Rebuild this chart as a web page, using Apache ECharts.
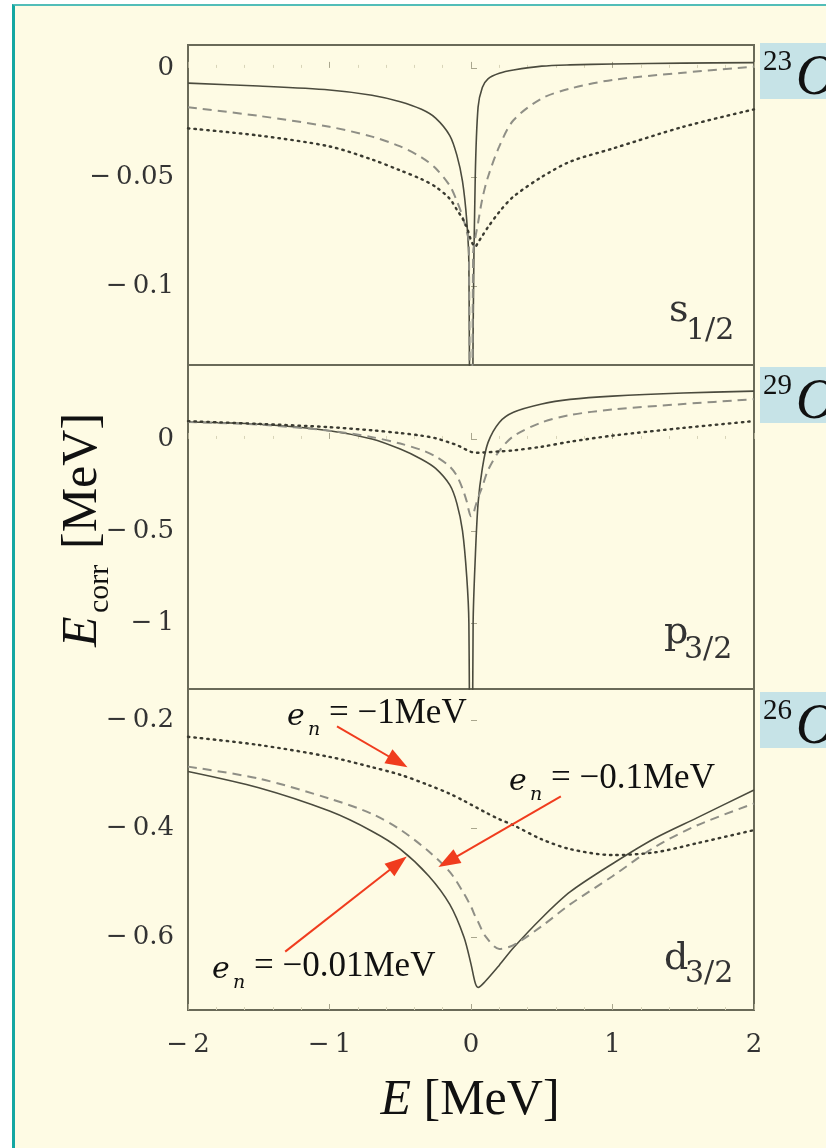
<!DOCTYPE html>
<html>
<head>
<meta charset="utf-8">
<script src="https://cdn.jsdelivr.net/npm/echarts@6/dist/echarts.min.js"></script>
<style>
  html, body { margin: 0; padding: 0; background: #ffffff; }
  #marco {
    position: absolute; left: 12px; top: 4px; width: 840px; height: 1170px;
    background: #fefbe4; border-left: 3px solid #14a7a2; border-top: 2px solid #52bdb8;
  }
  #chart-container { position: absolute; left: 0; top: 0; width: 826px; height: 1148px; }
</style>
</head>
<body>
<div id="marco"></div>
<div id="chart-container"></div>
<script>
// Energías (MeV) de los paneles s1/2 y p3/2
const energiasSP = [-2, -1.5, -1, -0.7, -0.5, -0.35, -0.25, -0.15, -0.1, -0.06, -0.03, -0.015, 0,
  0.015, 0.03, 0.05, 0.08, 0.12, 0.2, 0.3, 0.5, 0.7, 1, 1.5, 2];

// Panel s1/2 (23O): en = -0.01, -0.1, -1 MeV
const sSolida = [-0.0070, -0.0083, -0.0101, -0.0125, -0.0155, -0.019, -0.023, -0.031, -0.040, -0.052, -0.070, -0.090, -0.3,
  -0.12, -0.05, -0.018, -0.009, -0.005, -0.0025, -0.001, 0.0008, 0.0014, 0.0018, 0.0022, 0.0024];
const sDiscontinua = [-0.018, -0.022, -0.027, -0.0315, -0.036, -0.041, -0.046, -0.054, -0.061, -0.068, -0.075, -0.080, -0.3,
  -0.085, -0.078, -0.071, -0.060, -0.050, -0.036, -0.024, -0.014, -0.0095, -0.0055, -0.0022, 0.0006];
const sPunteada = [-0.0277, -0.031, -0.036, -0.042, -0.047, -0.051, -0.0545, -0.060, -0.065, -0.069, -0.073, -0.076, -0.079,
  -0.081, -0.082, -0.080, -0.077, -0.073, -0.066, -0.059, -0.050, -0.043, -0.037, -0.027, -0.019];

// Panel p3/2 (29O)
const pSolida = [0.092, 0.08, 0.045, 0.0, -0.055, -0.11, -0.16, -0.25, -0.35, -0.50, -0.75, -1.0, -3,
  -1.0, -0.65, -0.35, -0.16, -0.02, 0.09, 0.145, 0.19, 0.215, 0.233, 0.25, 0.26];
const pDiscontinua = [0.092, 0.078, 0.045, 0.01, -0.025, -0.06, -0.095, -0.15, -0.20, -0.27, -0.34, -0.39, -0.42,
  -0.41, -0.37, -0.32, -0.26, -0.17, -0.065, 0.015, 0.09, 0.13, 0.16, 0.19, 0.216];
const pPunteada = [0.097, 0.082, 0.064, 0.047, 0.032, 0.018, 0.004, -0.02, -0.033, -0.048, -0.06, -0.066, -0.07,
  -0.073, -0.075, -0.075, -0.074, -0.072, -0.068, -0.062, -0.042, -0.015, 0.018, 0.06, 0.097];

// Panel d3/2 (26O)
const energiasD = [-2, -1.5, -1, -0.7, -0.5, -0.3, -0.15, -0.05, 0, 0.03, 0.05, 0.1, 0.2, 0.3, 0.5, 0.7, 1, 1.3, 1.6, 2];
const dSolida = [-0.295, -0.325, -0.368, -0.405, -0.438, -0.487, -0.540, -0.600, -0.650, -0.685, -0.693, -0.682, -0.652,
  -0.62, -0.565, -0.517, -0.465, -0.418, -0.38, -0.329];
const dDiscontinua = [-0.286, -0.308, -0.345, -0.373, -0.402, -0.442, -0.48, -0.52, -0.544, -0.562, -0.572, -0.598, -0.622,
  -0.615, -0.58, -0.54, -0.488, -0.434, -0.394, -0.354];
const dPunteada = [-0.231, -0.246, -0.268, -0.287, -0.301, -0.32, -0.336, -0.349, -0.356, -0.36, -0.363, -0.37, -0.383,
  -0.394, -0.42, -0.438, -0.449, -0.444, -0.427, -0.403];

// Marcas de los ejes y rangos
const ticksE = [-2, -1, 0, 1, 2];
const ticksS = [0, -0.05, -0.1];
const ticksP = [0, -0.5, -1];
const ticksD = [-0.2, -0.4, -0.6];
const rangoS = [-0.1362, 0.0105];
const rangoP = [-1.359, 0.402];
const rangoD = [-0.7346, -0.1429];

// Flechas rojas del panel d3/2: [inicio, punta] en coordenadas de datos
const flechas = [
  [[-0.947, -0.212], [-0.516, -0.277]],
  [[0.635, -0.341], [-0.163, -0.461]],
  [[-1.313, -0.627], [-0.515, -0.464]]
];

const fuente = "'Liberation Serif', 'DejaVu Serif', serif";
const fuenteAncha = "'DejaVu Serif', serif";

// Formato con signo menos tipográfico
function formatearTick(valor) {
  return valor < 0 ? "\u2212\u2009" + String(-valor) : String(valor);
}

// Estilos de las tres curvas
const estiloSolido = { color: "#4b4b3e", width: 1.6, type: "solid" };
const estiloDiscontinuo = { color: "#8f8f86", width: 2, type: [9, 6] };
const estiloPunteado = { color: "#3a3a30", width: 2.4, type: [1.5, 5], cap: "round" };

function crearEjeX(indice, conEtiquetas) {
  return {
    type: "value", gridIndex: indice, min: -2, max: 2, interval: 1,
    axisLine: { show: false }, splitLine: { show: false },
    axisTick: { show: true, inside: true, length: 6, customValues: ticksE, lineStyle: { color: "#a9a68e" } },
    minorTick: { show: true, splitNumber: 5, length: 3, lineStyle: { color: "#d8d4b8" } },
    axisLabel: { show: conEtiquetas, customValues: ticksE, margin: 22, fontFamily: fuenteAncha, fontSize: 26, color: "#333", formatter: formatearTick },
  };
}

function crearEjeY(indice, rango, ticks) {
  return {
    type: "value", gridIndex: indice, min: rango[0], max: rango[1],
    axisLine: { show: false }, splitLine: { show: false },
    axisTick: { show: true, inside: true, length: 6, customValues: ticks, lineStyle: { color: "#a9a68e" } },
    axisLabel: { customValues: ticks, margin: 14, fontFamily: fuenteAncha, fontSize: 26, color: "#333", formatter: formatearTick },
  };
}

function crearSerie(nombre, indice, xs, ys, estilo) {
  return {
    name: nombre, type: "line", xAxisIndex: indice, yAxisIndex: indice,
    data: xs.map((x, i) => [x, ys[i]]),
    showSymbol: false, symbol: "none", smooth: 0.3, clip: true,
    lineStyle: estilo, silent: true, emphasis: { disabled: true },
  };
}

// Texto auxiliar para los elementos gráficos
function texto(x, y, contenido, tamano, cursiva, familia) {
  return {
    type: "text", x: x, y: y, silent: true,
    style: {
      text: contenido, fill: "#111", fontFamily: familia || fuente, fontSize: tamano,
      fontStyle: cursiva ? "italic" : "normal", verticalAlign: "middle", align: "left",
    },
  };
}

// Etiqueta de núcleo (caja azul a la derecha)
function etiquetaNucleo(arriba, masa) {
  return {
    type: "group", x: 760, y: arriba, silent: true,
    children: [
      { type: "rect", shape: { x: 0, y: 0, width: 80, height: 56 }, style: { fill: "#c6e3e7" } },
      texto(3, 19, masa, 29, false),
      texto(36, 36, "O", 56, true),
    ],
  };
}

// Etiqueta de onda parcial (s1/2, p3/2, d3/2)
function etiquetaOnda(x, y, letra, sub, dx, dy) {
  const a = texto(0, 0, letra, 38, false, fuenteAncha);
  const b = texto(dx, dy, sub, 30, false, fuenteAncha);
  a.style.fill = "#333";
  b.style.fill = "#333";
  return { type: "group", x: x, y: y, silent: true, children: [a, b] };
}

// Anotación e_n = ...
function anotacion(x, y, resto) {
  return {
    type: "group", x: x, y: y, silent: true,
    children: [texto(0, 0, "e", 30, true, fuenteAncha), texto(21, 13, "n", 19, true, fuenteAncha), texto(42, -3, "= " + resto, 35, false)],
  };
}

const option = {
  animation: false,
  grid: [
    { left: 188, right: 72, top: 45, height: 320 },
    { left: 188, right: 72, top: 365, height: 324 },
    { left: 188, right: 72, top: 689, height: 321 },
  ].map((g) => Object.assign(g, { show: true, borderColor: "#6a6a58", borderWidth: 2, backgroundColor: "transparent" })),
  xAxis: [crearEjeX(0, false), crearEjeX(1, false), crearEjeX(2, true)],
  yAxis: [crearEjeY(0, rangoS, ticksS), crearEjeY(1, rangoP, ticksP), crearEjeY(2, rangoD, ticksD)],
  series: [
    crearSerie("s -0.01", 0, energiasSP, sSolida, estiloSolido),
    crearSerie("s -0.1", 0, energiasSP, sDiscontinua, estiloDiscontinuo),
    crearSerie("s -1", 0, energiasSP, sPunteada, estiloPunteado),
    crearSerie("p -0.01", 1, energiasSP, pSolida, estiloSolido),
    crearSerie("p -0.1", 1, energiasSP, pDiscontinua, estiloDiscontinuo),
    crearSerie("p -1", 1, energiasSP, pPunteada, estiloPunteado),
    crearSerie("d -0.01", 2, energiasD, dSolida, estiloSolido),
    crearSerie("d -0.1", 2, energiasD, dDiscontinua, estiloDiscontinuo),
    Object.assign(crearSerie("d -1", 2, energiasD, dPunteada, estiloPunteado), {
      markLine: {
        silent: true, animation: false,
        symbol: ["none", "triangle"], symbolSize: [16, 22],
        lineStyle: { color: "#f03c1e", width: 2, type: "solid" },
        label: { show: false }, emphasis: { disabled: true },
        data: flechas.map((f) => [{ coord: f[0] }, { coord: f[1] }]),
      },
    }),
  ],
  graphic: [
    etiquetaNucleo(43, "23"),
    etiquetaNucleo(367, "29"),
    etiquetaNucleo(692, "26"),
    etiquetaOnda(669, 311, "s", "1/2", 17, 20),
    etiquetaOnda(664, 633, "p", "3/2", 20, 17),
    etiquetaOnda(664, 959, "d", "3/2", 21, 15),
    anotacion(287, 717, "\u22121MeV"),
    anotacion(509, 782, "\u22120.1MeV"),
    anotacion(212, 970, "\u22120.01MeV"),
    // Título del eje Y: E_corr [MeV]
    {
      type: "group", x: 83, y: 647, rotation: Math.PI / 2, silent: true,
      children: [texto(0, 0, "E", 50, true), texto(34, 17, "corr", 30, false), texto(98, 0, "[MeV]", 50, false)],
    },
    // Título del eje X
    {
      type: "text", x: 470, y: 1101, silent: true,
      style: {
        text: "{i|E} [MeV]", fill: "#111", fontFamily: fuente, fontSize: 50, align: "center", verticalAlign: "middle",
        rich: { i: { fontStyle: "italic", fontFamily: fuente, fontSize: 50, fill: "#111" } },
      },
    },
  ],
};

const dom = document.getElementById("chart-container");
const myChart = echarts.init(dom, null, { renderer: "canvas" });
myChart.setOption(option);
</script>
</body>
</html>
